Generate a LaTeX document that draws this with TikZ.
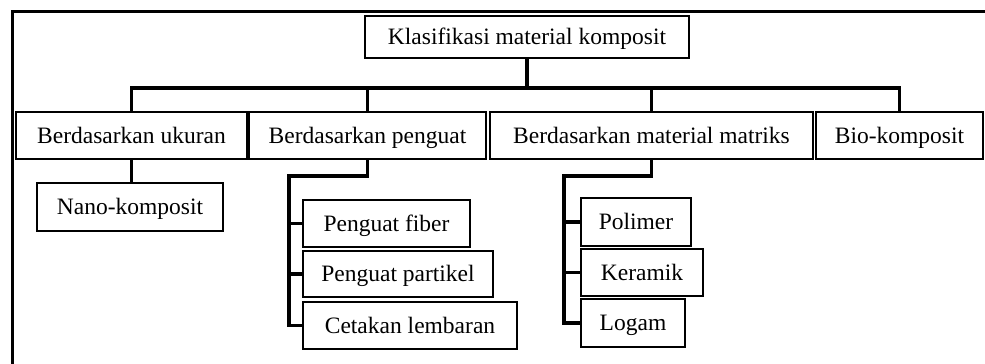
\documentclass[tikz,border=0pt]{standalone}
\usepackage{fontspec}
\setmainfont{Liberation Serif}
\usepackage{tikz}
\usetikzlibrary{positioning, calc}

\begin{document}
\begin{tikzpicture}[x=1pt, y=-1pt, thick,
    box/.style={draw=black, line width=1.5pt, rectangle, inner sep=0pt, minimum height=47pt, text height=20pt, text depth=5pt, font=\fontsize{23.5}{27}\selectfont},
    conn/.style={draw=black, line width=3.2pt}]
\useasboundingbox (0,0) rectangle (985,364);
\draw[line width=3pt] (12,364) -- (12,11) -- (985,11);

\node[box, minimum width=324, minimum height=42] (top) at (527,37) {Klasifikasi material komposit};

\node[box, minimum width=231] (ukuran) at (131.5,135.5) {Berdasarkan ukuran};
\node[box, minimum width=237] (penguat) at (367.5,135.5) {Berdasarkan penguat};
\node[box, minimum width=323] (matriks) at (651.5,135.5) {Berdasarkan material matriks};
\node[box, minimum width=167] (bio) at (899.5,135.5) {Bio-komposit};

\node[box, minimum width=186, minimum height=48] (nano) at (130,207) {Nano-komposit};

\node[box, minimum width=167] (fiber) at (386.5,223.5) {Penguat fiber};
\node[box, minimum width=190, minimum height=46] (partikel) at (398,274) {Penguat partikel};
\node[box, minimum width=214] (cetakan) at (410,325.5) {Cetakan lembaran};

\node[box, minimum width=110, minimum height=48] (polimer) at (636,222) {Polimer};
\node[box, minimum width=122] (keramik) at (642,272.5) {Keramik};
\node[box, minimum width=104, minimum height=48] (logam) at (633,323) {Logam};

\coordinate (bus) at (527,88);
\coordinate (pgbar) at (289,176);
\coordinate (mtbar) at (564,176);

\draw[conn] (top.south) -- (bus);
\draw[conn] (ukuran.north) |- (bio.north |- bus) -- (bio.north);
\draw[conn] (bus -| penguat.north) -- (penguat.north);
\draw[conn] (bus -| matriks.north) -- (matriks.north);

\draw[conn] (ukuran.south) -- (ukuran.south |- nano.north);

\draw[conn] (penguat.south) |- (pgbar) |- (cetakan.west);
\draw[conn] (pgbar |- fiber.west) -- (fiber.west);
\draw[conn] (pgbar |- partikel.west) -- (partikel.west);

\draw[conn] (matriks.south) |- (mtbar) |- (logam.west);
\draw[conn] (mtbar |- polimer.west) -- (polimer.west);
\draw[conn] (mtbar |- keramik.west) -- (keramik.west);

\end{tikzpicture}
\end{document}
